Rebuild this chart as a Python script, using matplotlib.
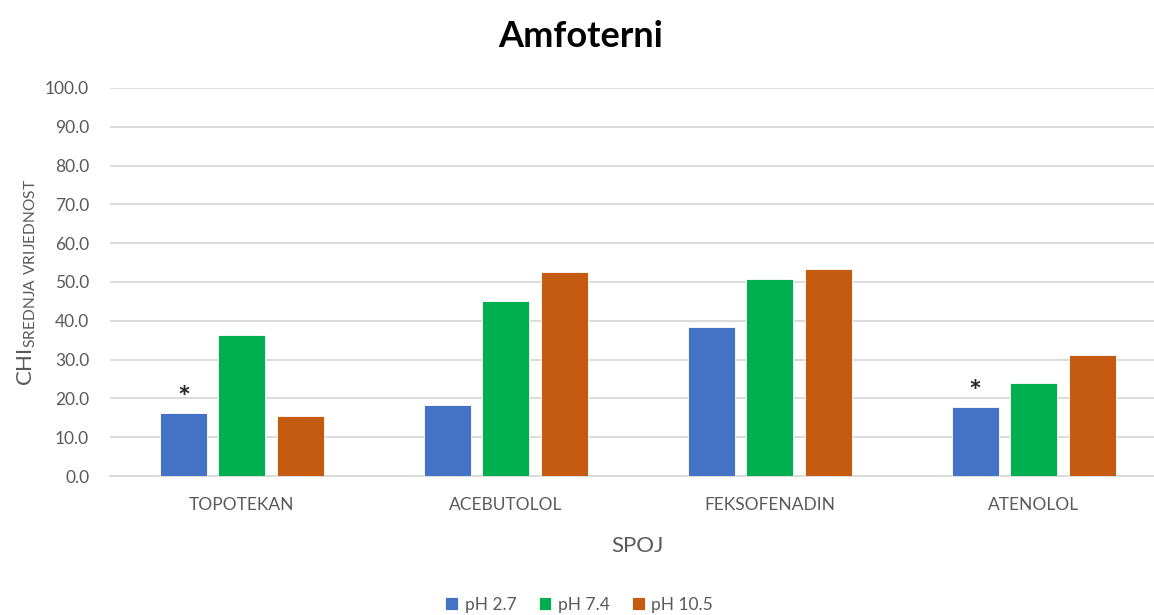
import numpy as np
import matplotlib.pyplot as plt

# Data
spojevi = ['TOPOTEKAN', 'ACEBUTOLOL', 'FEKSOFENADIN', 'ATENOLOL']
ph_27 = [16.2, 18.3, 38.4, 17.8]
ph_74 = [36.3, 45.1, 50.8, 24.0]
ph_105 = [15.5, 52.6, 53.4, 31.2]
zvjezdica = [True, False, False, True]   # '*' above pH 2.7 bar

series = [('pH 2.7', ph_27, '#4472C4'),
          ('pH 7.4', ph_74, '#00B050'),
          ('pH 10.5', ph_105, '#C55A11')]

plt.rcParams['font.family'] = ['Lato', 'DejaVu Sans']
plt.rcParams['mathtext.fontset'] = 'custom'
plt.rcParams['mathtext.rm'] = 'Lato'
text_col = '#595959'

fig = plt.figure(figsize=(11.54, 6.15), dpi=100)
ax = fig.add_axes([0.0953, 0.226, 0.915, 0.631])

x = np.arange(len(spojevi))
w = 0.178
step = 0.2216
for i, (name, vals, col) in enumerate(series):
    ax.bar(x + (i - 1) * step, vals, width=w, color=col, label=name,
           edgecolor='white', linewidth=0.6, zorder=3)

for xi, v, s in zip(x, ph_27, zvjezdica):
    if s:
        ax.annotate('*', (xi - step, v), xytext=(0, 0), textcoords='offset points',
                    ha='center', va='bottom', fontsize=22, fontweight='bold',
                    color='#262626')

ax.set_xlim(-0.5, len(spojevi) - 0.5)
ax.set_ylim(0, 100)
ax.set_yticks(np.arange(0, 101, 10))
ax.set_yticklabels([f'{v:.1f}' for v in np.arange(0, 101, 10)])
ax.set_xticks(x)
ax.set_xticklabels(spojevi)
ax.tick_params(axis='both', length=0, colors=text_col, labelsize=12.5)
ax.tick_params(axis='x', pad=15)
ax.tick_params(axis='y', pad=15)

ax.grid(axis='y', color='#D9D9D9', linewidth=1.3, zorder=0)
for sp in ['top', 'right', 'left']:
    ax.spines[sp].set_visible(False)
ax.spines['bottom'].set_color('#D9D9D9')
ax.spines['bottom'].set_linewidth(1.3)

ax.set_xlabel('SPOJ', fontsize=16, color=text_col, labelpad=17)
ax.set_ylabel(r'CHI$_{\mathrm{SREDNJA\ VRIJEDNOST}}$', fontsize=16,
              color=text_col, labelpad=8)
ax.yaxis.set_label_coords(-0.068, 0.5)

fig.text(0.503, 0.94, 'Amfoterni', ha='center', va='center',
         fontsize=26, fontweight='bold', color='black')

fig.legend(loc='center', bbox_to_anchor=(0.502, 0.017), ncol=3, frameon=False,
           fontsize=12.5, labelcolor=text_col, handlelength=0.7,
           handleheight=0.7, handletextpad=0.4, columnspacing=1.3)

fig.savefig('out.png', dpi=100)
